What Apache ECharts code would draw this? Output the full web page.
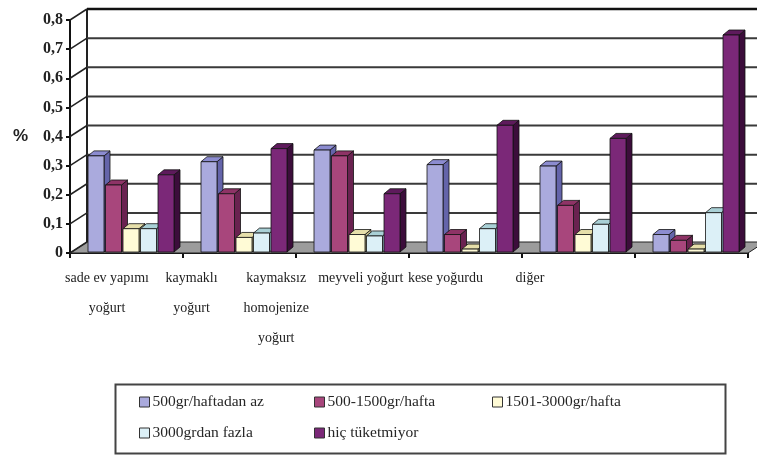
<!DOCTYPE html>
<html>
<head>
<meta charset="utf-8">
<script src="https://cdn.jsdelivr.net/npm/echarts@6/dist/echarts.min.js"></script>
<style>
  html, body { margin: 0; padding: 0; background: #fff; }
  #chart { width: 757px; height: 455px; }
</style>
</head>
<body>
<div id="chart"></div>
<script>
// Yogurt consumption by type and weekly amount (share of respondents)
const categories = [
  'sade ev yapımı\nyoğurt',
  'kaymaklı\nyoğurt',
  'kaymaksız\nhomojenize\nyoğurt',
  'meyveli yoğurt',
  'kese yoğurdu',
  'diğer'
];
const seriesNames = [
  '500gr/haftadan az',
  '500-1500gr/hafta',
  '1501-3000gr/hafta',
  '3000grdan fazla',
  'hiç tüketmiyor'
];
const lessThan500 = [0.33, 0.31, 0.35, 0.30, 0.295, 0.06];
const from500to1500 = [0.23, 0.20, 0.33, 0.06, 0.16, 0.04];
const from1501to3000 = [0.08, 0.05, 0.06, 0.01, 0.06, 0.01];
const over3000 = [0.08, 0.065, 0.055, 0.08, 0.095, 0.135];
const never = [0.265, 0.355, 0.20, 0.435, 0.39, 0.745];
const yTicks = [0, 0.1, 0.2, 0.3, 0.4, 0.5, 0.6, 0.7, 0.8];

const seriesValues = [lessThan500, from500to1500, from1501to3000, over3000, never];

// face colours: front, top, side
const palette = [
  { front: '#aaaadd', top: '#8c8cd0', side: '#6464aa' },
  { front: '#a8467c', top: '#8e3366', side: '#6a2250' },
  { front: '#fffbd6', top: '#e6dfaa', side: '#c8c08a' },
  { front: '#dcf0f7', top: '#a9d0d6', side: '#8fb6c0' },
  { front: '#7b2878', top: '#5e1a5c', side: '#3c0d3b' }
];

// pseudo-3D depth of the chart box and of each bar
const WALL_DX = 17, WALL_DY = -11;
const BAR_DX = 6, BAR_DY = -5;
const BAR_W = 16, BAR_STEP = 17.5, BAR_SHIFT = 4.5;

function barRenderer(s) {
  return function (params, api) {
    const base = api.coord([api.value(0), 0]);
    const top = api.coord([api.value(0), api.value(1)]);
    const x0 = base[0] + BAR_SHIFT + (s - 2) * BAR_STEP - BAR_W / 2;
    const x1 = x0 + BAR_W;
    const yb = base[1] - 1;
    const yt = top[1] - 1;
    const c = palette[s];
    const stroke = { stroke: '#111', lineWidth: 0.8, lineJoin: 'round' };
    return {
      type: 'group',
      children: [
        { type: 'polygon', shape: { points: [[x1, yt], [x1 + BAR_DX, yt + BAR_DY], [x1 + BAR_DX, yb + BAR_DY], [x1, yb]] },
          style: Object.assign({ fill: c.side }, stroke) },
        { type: 'polygon', shape: { points: [[x0, yt], [x1, yt], [x1 + BAR_DX, yt + BAR_DY], [x0 + BAR_DX, yt + BAR_DY]] },
          style: Object.assign({ fill: c.top }, stroke) },
        { type: 'rect', shape: { x: x0, y: yt, width: BAR_W, height: yb - yt },
          style: Object.assign({ fill: c.front }, stroke) }
      ]
    };
  };
}

// back wall gridlines, side-wall diagonals and the grey floor
function wallRenderer(params, api) {
  const v = api.value(0);
  const left = api.coord([0, v]);
  const right = api.coord([categories.length, v]);
  const children = [];
  const isTop = v === yTicks[yTicks.length - 1];
  if (v === 0) {
    children.push({
      type: 'polygon',
      shape: { points: [left, right, [right[0] + WALL_DX, right[1] + WALL_DY], [left[0] + WALL_DX, left[1] + WALL_DY]] },
      style: { fill: '#9c9c9c', stroke: '#222', lineWidth: 1 }
    });
    const topLeft = api.coord([0, yTicks[yTicks.length - 1]]);
    children.push({
      type: 'line',
      shape: { x1: left[0] + WALL_DX, y1: left[1] + WALL_DY, x2: topLeft[0] + WALL_DX, y2: topLeft[1] + WALL_DY },
      style: { stroke: '#222', lineWidth: 2 }
    });
  } else {
    children.push({
      type: 'line',
      shape: { x1: left[0] + WALL_DX, y1: left[1] + WALL_DY, x2: right[0] + WALL_DX + 20, y2: right[1] + WALL_DY },
      style: { stroke: isTop ? '#111' : '#3a3a3a', lineWidth: isTop ? 2.5 : 2 }
    });
  }
  children.push({
    type: 'line',
    shape: { x1: left[0], y1: left[1], x2: left[0] + WALL_DX, y2: left[1] + WALL_DY },
    style: { stroke: '#222', lineWidth: 1.5 }
  });
  return { type: 'group', children: children };
}

const serifFont = '"Liberation Serif", "Times New Roman", serif';

const barSeries = seriesValues.map(function (vals, s) {
  return {
    type: 'custom',
    name: seriesNames[s],
    xAxisIndex: 0,
    yAxisIndex: 0,
    z: 3,
    renderItem: barRenderer(s),
    itemStyle: { color: palette[s].front, borderColor: '#222', borderWidth: 1 },
    data: vals.map(function (v, i) { return [i + 0.5, v]; })
  };
});

const legendCols = [139, 314, 492];
const legendRows = [394, 425];
const legends = seriesNames.map(function (name, i) {
  return {
    data: [name],
    left: legendCols[i % 3],
    top: legendRows[Math.floor(i / 3)],
    padding: 0,
    itemWidth: 10,
    itemHeight: 10,
    itemGap: 0,
    icon: 'rect',
    itemStyle: { borderColor: '#333', borderWidth: 1 },
    textStyle: { fontFamily: serifFont, fontSize: 15.5, color: '#262626', padding: [0, 0, 0, -2] },
    selectedMode: false
  };
});

const option = {
  backgroundColor: '#ffffff',
  animation: false,
  grid: [
    { left: 70, right: 9, top: 20, bottom: 202 },
    { left: 64.7, right: 184.7, top: 20, bottom: 198 }
  ],
  xAxis: [
    {
      gridIndex: 0, type: 'value', min: 0, max: categories.length, interval: 1,
      axisLine: { show: true, lineStyle: { color: '#111', width: 2 } },
      axisTick: { show: true, length: 5, lineStyle: { color: '#111', width: 2 } },
      axisLabel: { show: false },
      splitLine: { show: false }
    },
    {
      gridIndex: 1, type: 'category', data: categories,
      axisLine: { show: false }, axisTick: { show: false }, splitLine: { show: false },
      axisLabel: { interval: 0, margin: 6, fontFamily: serifFont, fontSize: 14, lineHeight: 30, color: '#222' }
    }
  ],
  yAxis: [
    {
      gridIndex: 0, type: 'value', min: 0, max: 0.8, interval: 0.1,
      name: '%', nameLocation: 'middle', nameRotate: 0, nameGap: 42,
      nameTextStyle: { fontFamily: '"Liberation Sans", Arial, sans-serif', fontWeight: 'bold', fontSize: 17, color: '#222', padding: [4, 0, 0, 0] },
      axisLine: { show: true, lineStyle: { color: '#111', width: 2 } },
      axisTick: { show: true, length: 4, lineStyle: { color: '#111', width: 2 } },
      splitLine: { show: false },
      axisLabel: {
        margin: 7, fontFamily: serifFont, fontWeight: 'bold', fontSize: 16, color: '#222',
        formatter: function (v) { return v === 0 ? '0' : v.toFixed(1).replace('.', ','); }
      }
    },
    { gridIndex: 1, type: 'value', show: false }
  ],
  legend: legends,
  graphic: [
    { type: 'rect', left: 113, top: 382, shape: { width: 610, height: 69 },
      style: { fill: 'none', stroke: '#444', lineWidth: 2 } }
  ],
  series: [
    {
      type: 'custom',
      name: 'wall',
      xAxisIndex: 0,
      yAxisIndex: 0,
      z: 1,
      silent: true,
      renderItem: wallRenderer,
      data: yTicks.map(function (v) { return [v]; })
    }
  ].concat(barSeries)
};

const chart = echarts.init(document.getElementById('chart'), null, { renderer: 'canvas' });
chart.setOption(option);
</script>
</body>
</html>
